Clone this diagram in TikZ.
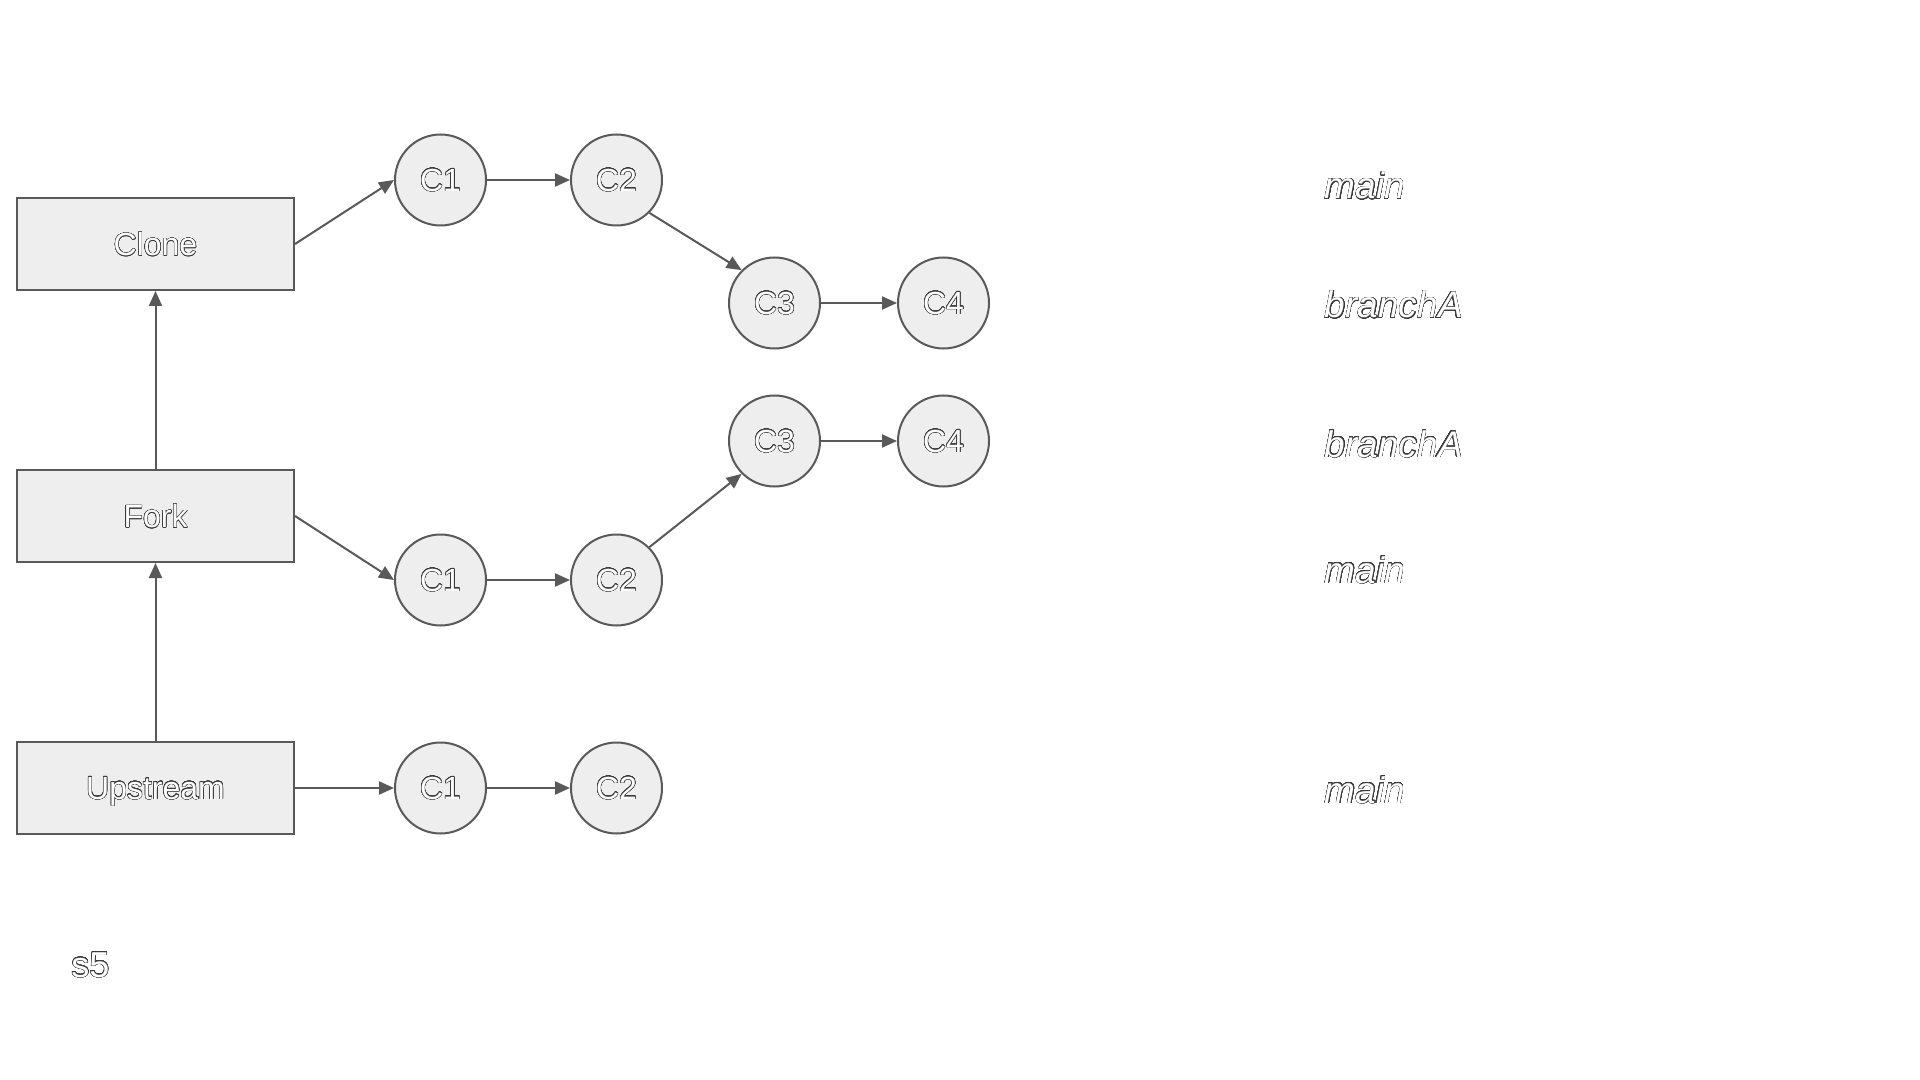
\documentclass[tikz,border=0pt]{standalone}
\usepackage{fontspec}
\setmainfont{Liberation Sans}
\usepackage{contour}
\contourlength{0.22pt}
\contournumber{32}
\usetikzlibrary{arrows.meta}
\definecolor{edgegray}{HTML}{595959}
\definecolor{fillgray}{HTML}{EEEEEE}
\definecolor{outl}{HTML}{3A3A3A}
\newcommand{\hollow}[1]{\contour{outl}{#1}}
\begin{document}
\begin{tikzpicture}[x=0.5pt,y=-0.5pt,
  box/.style={draw=edgegray, fill=fillgray, line width=1pt, minimum width=138.5pt,
    minimum height=46pt, inner sep=0pt, text=white, text depth=0pt,
    font=\fontsize{16}{19}\selectfont},
  commit/.style={circle, draw=edgegray, fill=fillgray, line width=1pt, minimum size=45.5pt,
    inner sep=0pt, text=white, text depth=0pt, font=\fontsize{16}{19}\selectfont},
  lbl/.style={anchor=base west, inner sep=0pt, text=white,
    font=\fontsize{18.5}{22}\selectfont\itshape},
  arr/.style={draw=edgegray, line width=1pt, -{Triangle[length=7.5pt,width=6.5pt]}}
]
\useasboundingbox (0,0) rectangle (1920,1080);

% boxes
\node[box] (clone) at (155.5,244) {\hollow{Clone}};
\node[box] (fork) at (155.5,516) {\hollow{Fork}};
\node[box] (up) at (155.5,788) {\hollow{Upstream}};

% clone commits
\node[commit] (a1) at (440.5,180) {\hollow{C1}};
\node[commit] (a2) at (616.5,180) {\hollow{C2}};
\node[commit] (a3) at (774.5,303) {\hollow{C3}};
\node[commit] (a4) at (943.5,303) {\hollow{C4}};

% fork commits
\node[commit] (b3) at (774.5,441) {\hollow{C3}};
\node[commit] (b4) at (943.5,441) {\hollow{C4}};
\node[commit] (b1) at (440.5,580) {\hollow{C1}};
\node[commit] (b2) at (616.5,580) {\hollow{C2}};

% upstream commits
\node[commit] (c1) at (440.5,788) {\hollow{C1}};
\node[commit] (c2) at (616.5,788) {\hollow{C2}};

% labels
\node[lbl] (l1) at (1324.5,199) {\hollow{main}};
\node[lbl] (l2) at (1324.5,318) {\hollow{branchA}};
\node[lbl] (l3) at (1324.5,457) {\hollow{branchA}};
\node[lbl] (l4) at (1324.5,583) {\hollow{main}};
\node[lbl] (l5) at (1324.5,803) {\hollow{main}};

\node[anchor=base west, inner sep=0pt, text=white, font=\fontsize{18}{21}\selectfont] (s5) at (71,977) {\hollow{s5}};

% connectors
\draw[arr] (up.north) -- (fork.south);
\draw[arr] (fork.north) -- (clone.south);
\draw[arr] (clone.east) -- (a1.west);
\draw[arr] (a1) -- (a2);
\draw[arr] (a2.south east) -- (a3.north west);
\draw[arr] (a3) -- (a4);
\draw[arr] (fork.east) -- (b1.west);
\draw[arr] (b1) -- (b2);
\draw[arr] (b2.north east) -- (b3.south west);
\draw[arr] (b3) -- (b4);
\draw[arr] (up.east) -- (c1.west);
\draw[arr] (c1) -- (c2);
\end{tikzpicture}
\end{document}
